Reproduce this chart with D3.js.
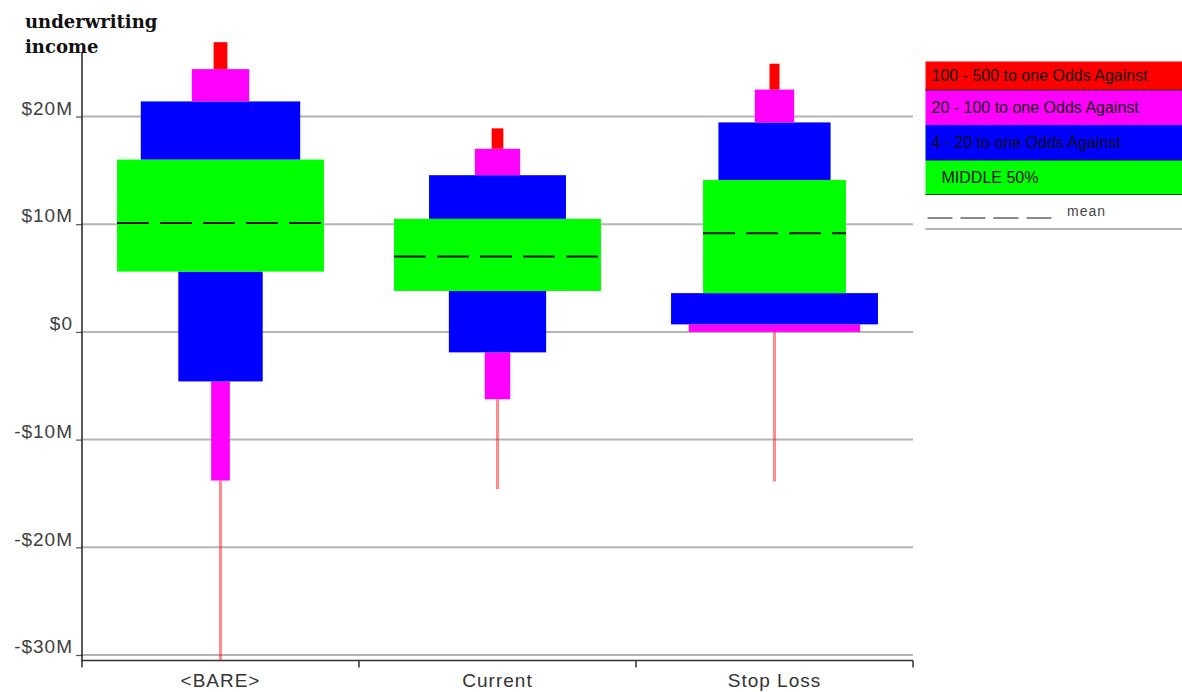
<!DOCTYPE html>
<html>
<head>
<meta charset="utf-8">
<script src="https://cdn.jsdelivr.net/npm/d3@7/dist/d3.min.js"></script>
<style>
  html, body { margin: 0; padding: 0; background: #fff; }
  svg { display: block; }
</style>
</head>
<body>
<svg id="chart" width="1182" height="692"></svg>
<script>
// ---------------- data ----------------
const categories = ["<BARE>", "Current", "Stop Loss"];
// cumulative probability levels bounding each band (0.2% .. 99.8%)
const bandLevels = [0.002, 0.01, 0.05, 0.25, 0.75, 0.95, 0.99, 0.998];
// quantile values ($M) at the levels above, one list per category
const bareQuantiles     = [-32.0, -13.8, -4.6, 5.6, 16.0, 21.4, 24.4, 26.9];
const currentQuantiles  = [-14.6, -6.25, -1.9, 3.8, 10.5, 14.55, 17.0, 18.9];
const stopLossQuantiles = [-13.9, 0.0, 0.7, 3.6, 14.1, 19.45, 22.5, 24.9];
const meanValues = [10.1, 7.0, 9.15];
const bandNames = ["low tail", "20-100 low", "4-20 low", "MIDDLE 50%", "4-20 high", "20-100 high", "100-500 high"];
const yTickValues = [20, 10, 0, -10, -20, -30];
const yTickLabels = ["$20M", "$10M", "$0", "-$10M", "-$20M", "-$30M"];
const legendLabels = ["100 - 500 to one Odds Against", "20 - 100 to one Odds Against", "4 - 20 to one Odds Against", "MIDDLE 50%"];
const meanLabel = "mean";
const titleLines = ["underwriting", "income"];

// ---------------- styling ----------------
const bandColors = ["#ff0000", "#ff00ff", "#0000ff", "#00ff00", "#0000ff", "#ff00ff", "#ff0000"];
const legendColors = ["#ff0000", "#ff00ff", "#0000ff", "#00ff00"];

const svg = d3.select("#chart");
const left = 82, right = 913, axisTop = 52, axisBottom = 660.5;

const y = d3.scaleLinear().domain([-30, 20]).range([655, 116.5]);
const x = d3.scaleBand().domain(categories).range([left, right]);
const maxBoxWidth = x.bandwidth() * 0.747;

// clip (bottom only)
svg.append("defs").append("clipPath").attr("id", "plotClip")
  .append("rect").attr("x", 0).attr("y", 0).attr("width", right + 5).attr("height", axisBottom);

// gridlines
const grid = svg.append("g");
grid.selectAll("line").data(yTickValues).join("line")
  .attr("x1", left).attr("x2", right)
  .attr("y1", d => y(d)).attr("y2", d => y(d))
  .attr("stroke", "#b4b4b4").attr("stroke-width", 2);

// y axis via d3 axis
const yAxis = d3.axisLeft(y).tickValues(yTickValues)
  .tickFormat((d, i) => yTickLabels[i]).tickSize(6).tickPadding(3);
const yg = svg.append("g").attr("transform", `translate(${left},0)`).call(yAxis);
yg.select(".domain").remove();
yg.selectAll(".tick line").attr("stroke", "#555").attr("stroke-width", 1.2);
yg.selectAll(".tick text")
  .attr("font-family", "Liberation Sans, Arial, sans-serif")
  .attr("font-size", 19).attr("fill", "#404040")
  .attr("letter-spacing", 1)
  .attr("dy", "-0.12em");
svg.append("line").attr("x1", left).attr("x2", left).attr("y1", axisTop).attr("y2", axisBottom + 1)
  .attr("stroke", "#222").attr("stroke-width", 1.5);

// x axis
const xAxis = d3.axisBottom(x).tickSize(0).tickPadding(13);
const xg = svg.append("g").attr("transform", `translate(0,${axisBottom})`).call(xAxis);
xg.select(".domain").remove();
xg.selectAll(".tick text")
  .attr("font-family", "Liberation Sans, Arial, sans-serif")
  .attr("font-size", 19).attr("fill", "#333")
  .attr("letter-spacing", 1);
svg.append("line").attr("x1", left).attr("x2", right).attr("y1", axisBottom).attr("y2", axisBottom)
  .attr("stroke", "#333").attr("stroke-width", 1.6);
const boundaries = [left].concat(categories.map(c => x(c) + x.bandwidth()));
svg.append("g").selectAll("line").data(boundaries).join("line")
  .attr("x1", d => d).attr("x2", d => d)
  .attr("y1", axisBottom).attr("y2", axisBottom + 7)
  .attr("stroke", "#333").attr("stroke-width", 1.5);

// boxes
const allQuantiles = [bareQuantiles, currentQuantiles, stopLossQuantiles];
const plot = svg.append("g").attr("clip-path", "url(#plotClip)");
categories.forEach((cat, ci) => {
  const q = allQuantiles[ci];
  const bands = bandNames.map((name, k) => {
    const lo = q[k], hi = q[k + 1];
    const prob = bandLevels[k + 1] - bandLevels[k];
    return { k, lo, hi, density: prob / (hi - lo) };
  });
  const w = d3.scaleLinear().domain([0, d3.max(bands, b => b.density)]).range([0, maxBoxWidth]);
  const cx = x(cat) + x.bandwidth() / 2;
  plot.append("g").selectAll("rect").data(bands).join("rect")
    .attr("x", b => cx - Math.max(w(b.density), 3) / 2)
    .attr("width", b => Math.max(w(b.density), 3))
    .attr("y", b => y(b.hi))
    .attr("height", b => y(b.lo) - y(b.hi))
    .attr("fill", b => bandColors[b.k])
    .attr("fill-opacity", b => w(b.density) < 4 ? 0.45 : 1);
  // mean line across the middle 50% box
  const mid = bands[3];
  const mw = w(mid.density);
  plot.append("line")
    .attr("x1", cx - mw / 2).attr("x2", cx + mw / 2)
    .attr("y1", y(meanValues[ci])).attr("y2", y(meanValues[ci]))
    .attr("stroke", "#111").attr("stroke-width", 2)
    .attr("stroke-dasharray", "32,11");
});

// title
svg.append("g").selectAll("text").data(titleLines).join("text")
  .attr("x", 25).attr("y", (d, i) => 28 + i * 25)
  .attr("font-family", "DejaVu Serif, serif").attr("font-weight", "bold")
  .attr("font-size", 18).attr("fill", "#111")
  .text(d => d);

// legend
const lg = svg.append("g");
const legX = 925.5, legW = 1182 - 925.5;
const rowTops = [61.5, 90, 125, 160, 194.5];
legendLabels.forEach((lab, i) => {
  lg.append("rect").attr("x", legX).attr("y", rowTops[i]).attr("width", legW)
    .attr("height", rowTops[i + 1] - rowTops[i]).attr("fill", legendColors[i]);
  lg.append("text").attr("x", legX + (i === 3 ? 16 : 6))
    .attr("y", (rowTops[i] + rowTops[i + 1]) / 2 + 5.5)
    .attr("font-family", "Liberation Sans, Arial, sans-serif")
    .attr("font-size", 16).attr("fill", "#111")
    .text(lab);
});
lg.append("line").attr("x1", legX).attr("x2", 1182).attr("y1", 90).attr("y2", 90)
  .attr("stroke", "#222").attr("stroke-width", 1.5).attr("stroke-dasharray", "2,1");
lg.append("line").attr("x1", legX).attr("x2", 1182).attr("y1", 160).attr("y2", 160)
  .attr("stroke", "#00008a").attr("stroke-width", 1);
lg.append("line").attr("x1", legX).attr("x2", 1182).attr("y1", 194.5).attr("y2", 194.5)
  .attr("stroke", "#006000").attr("stroke-width", 1);
lg.append("line").attr("x1", legX + 2).attr("x2", legX + 127).attr("y1", 218).attr("y2", 218)
  .attr("stroke", "#8a8a8a").attr("stroke-width", 2).attr("stroke-dasharray", "25,8");
lg.append("text").attr("x", 1067).attr("y", 216)
  .attr("font-family", "Liberation Sans, Arial, sans-serif")
  .attr("font-size", 14).attr("letter-spacing", 1).attr("fill", "#444").text(meanLabel);
lg.append("line").attr("x1", legX).attr("x2", 1182).attr("y1", 229).attr("y2", 229)
  .attr("stroke", "#b4b4b4").attr("stroke-width", 2);
</script>
</body>
</html>
